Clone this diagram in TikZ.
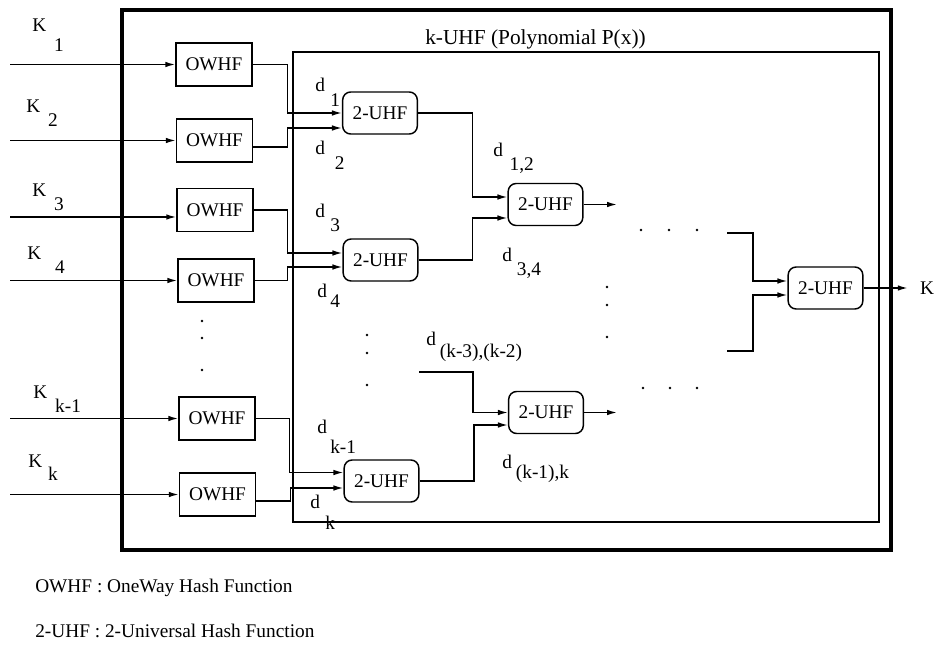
\documentclass[tikz,border=0pt]{standalone}
\usepackage{fontspec}
\setmainfont{Liberation Serif}
\usetikzlibrary{arrows.meta,calc}

\newcommand{\subl}[4]{#1\kern#3pt\raisebox{-#4pt}{#2}}

\begin{document}
\begin{tikzpicture}[x=0.75pt,y=-0.75pt,>={Latex[length=7.5pt,width=4.2pt]},font=\fontsize{14.5}{17}\selectfont]
  \tikzstyle{owhf}=[draw,line width=1.1pt,minimum width=57pt,minimum height=32pt,inner sep=0pt]
  \tikzstyle{uhf}=[draw,line width=1.1pt,rounded corners=6pt,minimum width=56pt,minimum height=31.5pt,inner sep=0pt]
  \tikzstyle{lbl}=[anchor=base west,inner sep=0pt]
  \tikzstyle{wire}=[line width=1.1pt]
  \useasboundingbox (0,0) rectangle (938,645);

  % frames
  \draw[line width=2.6pt] (122,10) rectangle (891,550);
  \draw[line width=0.9pt] (293,52) rectangle (879,522);
  \node[lbl,font=\fontsize{16}{19}\selectfont] (title) at (425,45) {k-UHF (Polynomial P(x))};

  % one-way hash functions
  \node[owhf] (o1) at (214,64.5) {OWHF};
  \node[owhf] (o2) at (214.5,140.5) {OWHF};
  \node[owhf] (o3) at (215,210) {OWHF};
  \node[owhf] (o4) at (216,280.5) {OWHF};
  \node[owhf] (o5) at (217,418.5) {OWHF};
  \node[owhf] (o6) at (217.5,494.5) {OWHF};

  \coordinate (in1) at (10,64.5);
  \coordinate (in2) at (10,140.5);
  \coordinate (in3) at (10,217);
  \coordinate (in4) at (10,280.5);
  \coordinate (in5) at (10,418.5);
  \coordinate (in6) at (10,494.5);
  \draw[wire,->] (in1) -- (in1 -| o1.west);
  \draw[wire,->] (in2) -- (in2 -| o2.west);
  \draw[wire,->] (in3) -- (in3 -| o3.west);
  \draw[wire,->] (in4) -- (in4 -| o4.west);
  \draw[wire,->] (in5) -- (in5 -| o5.west);
  \draw[wire,->] (in6) -- (in6 -| o6.west);

  \node[lbl] (k1) at (32,32) {\subl{K}{1}{6}{15}};
  \node[lbl] (k2) at (26,113) {\subl{K}{2}{6}{10.5}};
  \node[lbl] (k3) at (32,197) {\subl{K}{3}{6}{10}};
  \node[lbl] (k4) at (27,259) {\subl{K}{4}{10.5}{10.5}};
  \node[lbl] (k5) at (33,398) {\subl{K}{k-1}{6}{10.5}};
  \node[lbl] (k6) at (28,467) {\subl{K}{k}{4.5}{10}};

  % 2-universal hash functions
  \node[uhf] (u1) at (380,113) {2-UHF};
  \node[uhf] (u2) at (380.5,260) {2-UHF};
  \node[uhf] (u3) at (381.5,481) {2-UHF};
  \node[uhf] (v1) at (545.5,204.5) {2-UHF};
  \node[uhf] (v2) at (546,412.5) {2-UHF};
  \node[uhf] (w) at (825.5,288) {2-UHF};
  \node[inner xsep=9pt] (kout) at (927,288) {K};

  \draw[wire,->] (o1.east) -- ++(35,0) |- (u1.west);
  \draw[wire,->] ($(o2.east)+(0,6.5)$) -- ++(34.5,0) |- ($(u1.west)+(0,15)$);
  \draw[wire,->] (o3.east) -- ++(34,0) |- ($(u2.west)+(0,-7)$);
  \draw[wire,->] (o4.east) -- ++(33,0) |- ($(u2.west)+(0,7)$);
  \draw[wire,->] (o5.east) -- ++(34,0) |- ($(u3.west)+(0,-8.5)$);
  \draw[wire,->] ($(o6.east)+(0,6.5)$) -- ++(34.5,0) |- ($(u3.west)+(0,7)$);

  \node[lbl] (d1) at (315,92) {\subl{d}{1}{4}{11}};
  \node[lbl] (d2) at (315,155) {\subl{d}{2}{7.5}{11}};
  \node[lbl] (d3) at (315,218) {\subl{d}{3}{4}{10.5}};
  \node[lbl] (d4) at (317,297) {\subl{d}{4}{2.5}{8}};
  \node[lbl] (d5) at (317,433) {\subl{d}{k-1}{2.5}{15}};
  \node[lbl] (d6) at (310,508) {\subl{d}{k}{4}{16}};

  \coordinate (dkk) at (419,372);
  \draw[wire,->] (u1.east) -- ++(54.5,0) |- ($(v1.west)+(0,-7.5)$);
  \draw[wire,->] (u2.east) -- ++(54,0) |- ($(v1.west)+(0,13.5)$);
  \draw[wire,->] (dkk) -- ++(54,0) |- (v2.west);
  \draw[wire,->] (u3.east) -- ++(54.5,0) |- ($(v2.west)+(0,12.5)$);

  \node[lbl] (d12) at (493,157) {\subl{d}{1,2}{5}{10}};
  \node[lbl] (d34) at (502,262) {\subl{d}{3,4}{3.75}{10}};
  \node[lbl] (dk32) at (426,345) {\subl{d}{(k-3),(k-2)}{3}{9}};
  \node[lbl] (dk1k) at (502,468) {\subl{d}{(k-1),k}{3}{8}};

  \coordinate (v1out) at (617,204.5);
  \coordinate (v2out) at (617,412.5);
  \draw[wire,->] (v1) -- (v1out);
  \draw[wire,->] (v2) -- (v2out);

  % last stage
  \coordinate (win1) at (727,233);
  \coordinate (win2) at (727,351);
  \draw[wire,->] (win1) -- ++(26,0) |- ($(w.west)+(0,-7)$);
  \draw[wire,->] (win2) -- ++(26,0) |- ($(w.west)+(0,7)$);
  \draw[wire,->] (w) -- (kout);

  % dots
  \fill (202,321) circle (1pt) (202,338) circle (1pt) (202,370) circle (1pt);
  \fill (367,335) circle (1pt) (367,353) circle (1pt) (367,385) circle (1pt);
  \fill (607,287) circle (1pt) (607,305) circle (1pt) (607,337) circle (1pt);
  \fill (641,230) circle (1pt) (669,230) circle (1pt) (697,230) circle (1pt);
  \fill (643,388) circle (1pt) (670,388) circle (1pt) (697,388) circle (1pt);

  % legend
  \node[lbl] (leg1) at (35,592) {OWHF : OneWay Hash Function};
  \node[lbl] (leg2) at (35,637) {2-UHF : 2-Universal Hash Function};
\end{tikzpicture}
\end{document}
